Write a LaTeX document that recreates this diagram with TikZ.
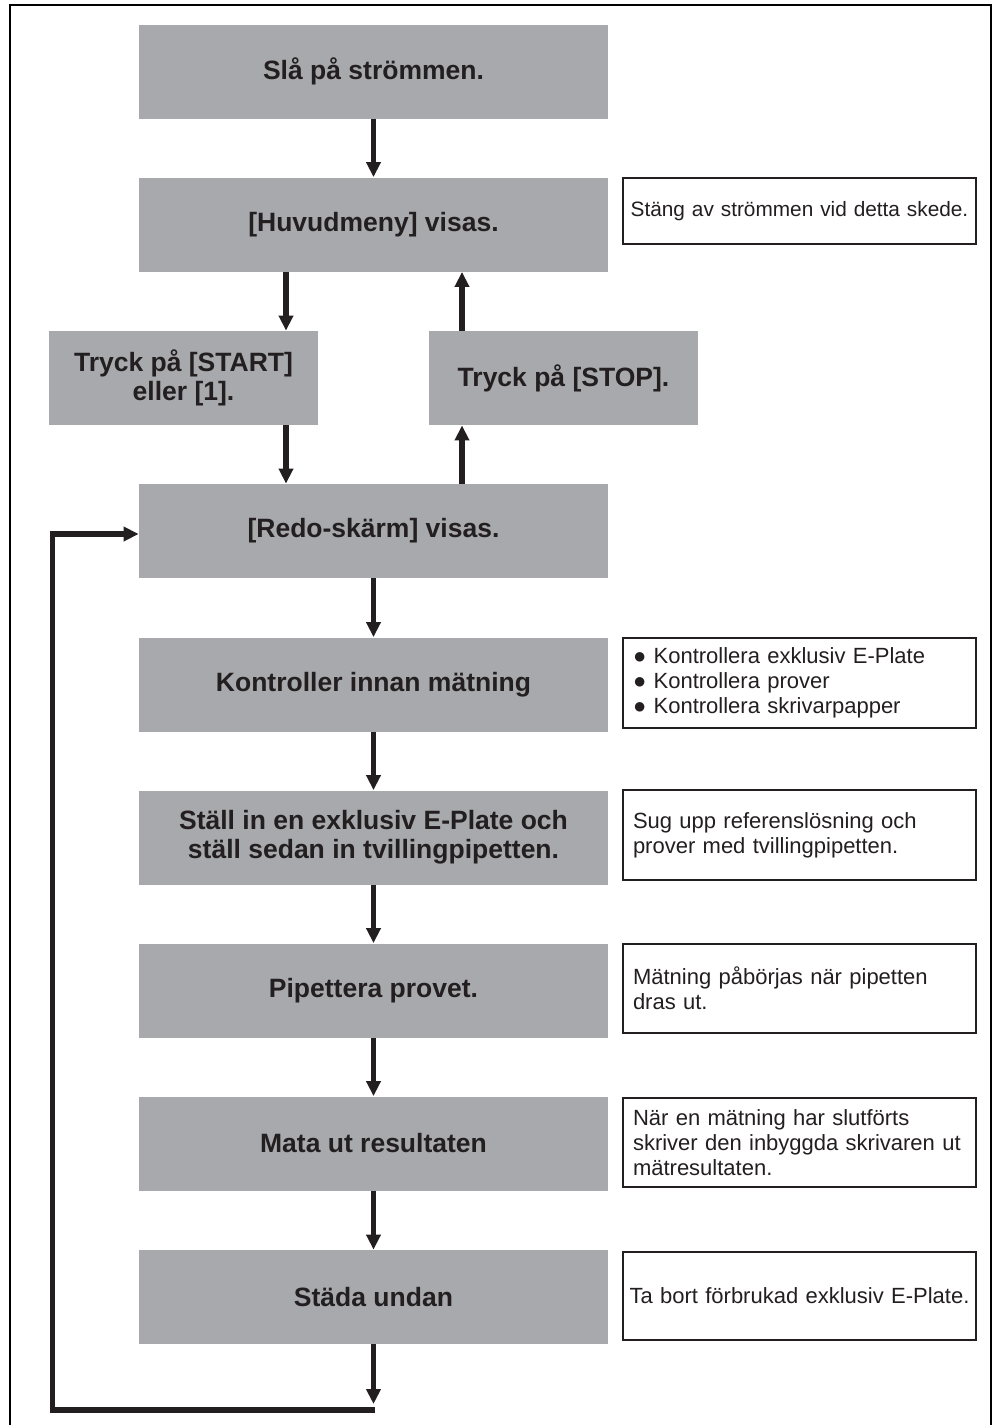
\documentclass[tikz,border=0pt]{standalone}
\usepackage{fontspec}
\setmainfont{Liberation Sans}
\usetikzlibrary{arrows.meta}
\definecolor{boxgray}{HTML}{A7A9AC}
\definecolor{ink}{HTML}{231F20}
\begin{document}
\begin{tikzpicture}[x=0.5pt,y=-0.5pt,
  mainbox/.style={fill=boxgray,draw=none,text=ink,font=\fontsize{13.25}{14.5}\selectfont\bfseries,align=center,inner sep=0pt,minimum height=47pt},
  note/.style={draw=ink,line width=0.6pt,fill=white,text=ink,font=\fontsize{11}{12.5}\selectfont,align=left,inner sep=0pt,minimum width=176.5pt,minimum height=45pt,text width=166.5pt},
  arr/.style={draw=ink,line width=2.6pt,-{Triangle[length=7.5pt,width=7pt]}},
  frameline/.style={draw=black,line width=1.4pt}]
\useasboundingbox (0,0) rectangle (997,1425);
% frame
\draw[frameline] (10,1425) -- (10,5) -- (991,5) -- (991,1425);
% main boxes
\node[mainbox,minimum width=234.5pt] (n1) at (373.5,71.5) {Slå på strömmen.};
\node[mainbox,minimum width=234.5pt] (n2) at (373.5,224.5) {[Huvudmeny] visas.};
\node[mainbox,minimum width=134.5pt] (start) at (183.5,378) {Tryck på [START]\\eller [1].};
\node[mainbox,minimum width=134.5pt] (stop) at (563.5,378) {Tryck på [STOP].};
\node[mainbox,minimum width=234.5pt] (n3) at (373.5,531) {[Redo-skärm] visas.};
\node[mainbox,minimum width=234.5pt] (n4) at (373.5,684.5) {Kontroller innan mätning};
\node[mainbox,minimum width=234.5pt] (n5) at (373.5,837.5) {Ställ in en exklusiv E-Plate och\\ställ sedan in tvillingpipetten.};
\node[mainbox,minimum width=234.5pt] (n6) at (373.5,990.5) {Pipettera provet.};
\node[mainbox,minimum width=234.5pt] (n7) at (373.5,1143.5) {Mata ut resultaten};
\node[mainbox,minimum width=234.5pt] (n8) at (373.5,1297) {Städa undan};
% notes
\node[note,minimum height=33pt,align=center,text width=176pt,font=\fontsize{10.4}{12.5}\selectfont] (s1) at (799.5,211) {Stäng av strömmen vid detta skede.};
\node[note] (s2) at (799.5,683) {● Kontrollera exklusiv E-Plate\\● Kontrollera prover\\● Kontrollera skrivarpapper};
\node[note] (s3) at (799.5,835) {Sug upp referenslösning och\\prover med tvillingpipetten.};
\node[note,minimum height=44.5pt] (s4) at (799.5,988.5) {Mätning påbörjas när pipetten\\dras ut.};
\node[note,minimum height=44.5pt] (s5) at (799.5,1142.5) {När en mätning har slutförts\\skriver den inbyggda skrivaren ut\\mätresultaten.};
\node[note,minimum height=44pt,align=center,text width=175pt] (s6) at (799.5,1296) {Ta bort förbrukad exklusiv E-Plate.};
% helper coordinates
\coordinate (xl) at (286,0);
\coordinate (xr) at (462,0);
\coordinate (bend) at (373.5,1404);
\coordinate (c1) at (375,1410);
\coordinate (c2) at (52.5,534);
% arrows
\draw[arr] (n1.south) -- (n2.north);
\draw[arr] (n2.south -| xl) -- (start.north -| xl);
\draw[arr] (start.south -| xl) -- (n3.north -| xl);
\draw[arr] (n3.north -| xr) -- (stop.south -| xr);
\draw[arr] (stop.north -| xr) -- (n2.south -| xr);
\draw[arr] (n3.south) -- (n4.north);
\draw[arr] (n4.south) -- (n5.north);
\draw[arr] (n5.south) -- (n6.north);
\draw[arr] (n6.south) -- (n7.north);
\draw[arr] (n7.south) -- (n8.north);
\draw[arr] (n8.south) -- (bend);
\draw[arr] (c1) -| (c2) -- (n3.west |- c2);
\end{tikzpicture}
\end{document}
